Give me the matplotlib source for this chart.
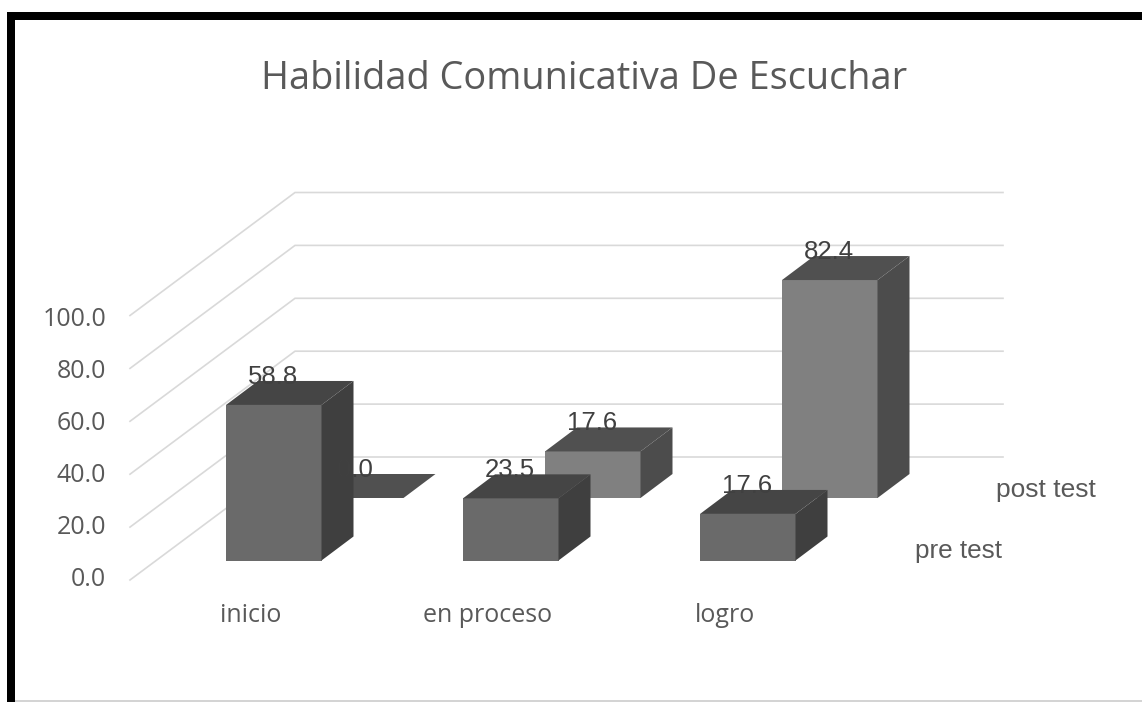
import matplotlib
matplotlib.use("Agg")
import matplotlib.pyplot as plt
from matplotlib.patches import Polygon, Rectangle

title = "Habilidad Comunicativa De Escuchar"
categories = ["inicio", "en proceso", "logro"]
series_names = ["pre test", "post test"]
pre_test = [58.8, 23.5, 17.6]
post_test = [0.0, 17.6, 82.4]
y_ticks = [0, 20, 40, 60, 80, 100]

W, H = 1142, 702
# oblique projection parameters (pixel space)
PX_PER_UNIT = 2.645
TICK_PX_PER_UNIT = 2.61
FRONT_BASE_Y = 560.5
BAR_W = 95.5
CAT_X0, CAT_STEP = 226.0, 237.0
SERIES_DX, SERIES_DY = 82.0, -62.5
BAR_DX, BAR_DY = 32.0, -24.0
WALL_X, WALL_Y0 = 295.0, 457.0
FLOOR_X, FLOOR_Y0 = 130.0, 580.0
GRID_END = 1003.0

TEXT = "#595959"
GRID = "#d9d9d9"
FACES = [
    {"front": "#6a6a6a", "top": "#454545", "side": "#3f3f3f"},
    {"front": "#808080", "top": "#505050", "side": "#4c4c4c"},
]

fig = plt.figure(figsize=(W / 100, H / 100), dpi=100, facecolor="white")
ax = fig.add_axes([0, 0, 1, 1])
ax.set_xlim(0, W)
ax.set_ylim(H, 0)
ax.axis("off")

OPEN = "Open Sans"
LIB = "Liberation Sans"

# frame of the screenshot
ax.add_patch(Rectangle((7, 12), 8, H - 12, fc="black", ec="none", zorder=10))
ax.add_patch(Rectangle((7, 12), W - 7, 8, fc="black", ec="none", zorder=10))
ax.plot([15, W], [701, 701], color="#cccccc", lw=1.2, zorder=1)

ax.text(584, 79, title, fontsize=27.3, family=OPEN, color=TEXT, ha="center", va="center")

# gridlines: floor/side diagonal plus back wall
for t in y_ticks:
    h = t * PX_PER_UNIT
    ax.plot([FLOOR_X, WALL_X, GRID_END], [FLOOR_Y0 - h, WALL_Y0 - h, WALL_Y0 - h],
            color=GRID, lw=1.2, zorder=1, solid_joinstyle="miter")
    ax.text(106, 580 - t * TICK_PX_PER_UNIT, f"{t:.1f}", fontsize=18, family=OPEN, color=TEXT,
            ha="right", va="center", zorder=2)


def draw_bar(i, s, value, z):
    x0 = CAT_X0 + i * CAT_STEP + s * SERIES_DX
    x1 = x0 + BAR_W
    yb = FRONT_BASE_Y + s * SERIES_DY
    yt = yb - value * PX_PER_UNIT
    f = FACES[s]
    if value > 0:
        ax.add_patch(Polygon([(x0, yb), (x1, yb), (x1, yt), (x0, yt)], fc=f["front"], ec="none", zorder=z))
        ax.add_patch(Polygon([(x1, yb), (x1 + BAR_DX, yb + BAR_DY), (x1 + BAR_DX, yt + BAR_DY), (x1, yt)],
                             fc=f["side"], ec="none", zorder=z))
    ax.add_patch(Polygon([(x0, yt), (x1, yt), (x1 + BAR_DX, yt + BAR_DY), (x0 + BAR_DX, yt + BAR_DY)],
                         fc=f["top"], ec="none", zorder=z))
    # labels sit on top of the bars, dark text nearly melting into the dark faces
    ax.text((x0 + x1) / 2 - 1, yt - 28, f"{value:.1f}", fontsize=18.5, family=LIB,
            color="#404040", ha="center", va="center", zorder=8)


for i, v in enumerate(post_test):
    draw_bar(i, 1, v, 3)
for i, v in enumerate(pre_test):
    draw_bar(i, 0, v, 5)

for i, c in enumerate(categories):
    ax.text(CAT_X0 + i * CAT_STEP + BAR_W / 2 - 23, 616, c, fontsize=18, family=OPEN,
            color=TEXT, ha="center", va="center")

ax.text(1002, 551, series_names[0], fontsize=18.8, family=LIB, color=TEXT, ha="right", va="center")
ax.text(1096, 490, series_names[1], fontsize=19, family=LIB, color=TEXT, ha="right", va="center")

fig.savefig("out.png", dpi=100, facecolor="white")
